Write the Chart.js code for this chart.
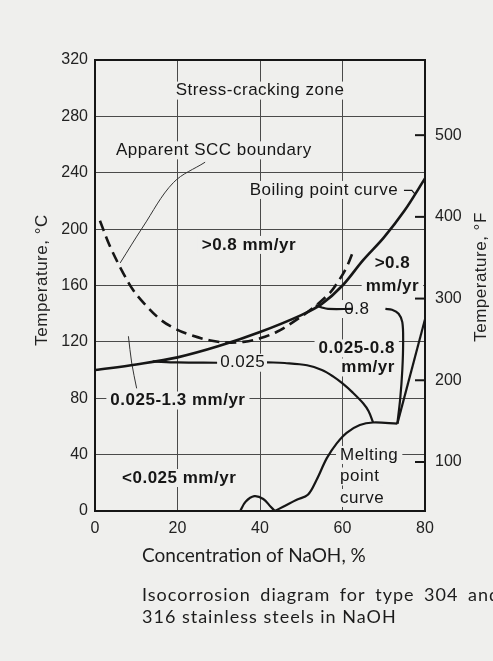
<!DOCTYPE html>
<html>
<head>
<meta charset="utf-8">
<title>Isocorrosion diagram NaOH</title>
<script src="https://cdn.jsdelivr.net/npm/chart.js@4.4.1/dist/chart.umd.min.js"></script>
<style>
  html, body { margin: 0; padding: 0; background: #efefed; }
  #wrap { position: relative; width: 493px; height: 661px; }
</style>
</head>
<body>
<div id="wrap"><canvas id="chart" width="493" height="661"></canvas></div>
<script>
// axis ticks
const concTicks = [0, 20, 40, 60, 80];
const tempTicksC = [0, 40, 80, 120, 160, 200, 240, 280, 320];
const tempTicksF = [100, 200, 300, 400, 500];

// curves: [NaOH %, temperature °C]
const boilingCurve = [[0,100],[10,104],[20,109],[30,117],[40,127],[50,139],[55,147],[60,160],[65,178],[70,194],[75,213],[80,236]];
const sccBoundary = [[1.2,206],[3.6,188],[6.8,169],[9.2,157],[12,147],[15.8,136],[19,130],[23,125],[28,121],[32,119.5],[36,120],[40,122.5],[44,127],[48,134],[52.8,144],[57,155],[59,163],[61,173],[62.8,186]];
const iso0025Left = [[14,106.1],[20,105.4],[29.6,105.2]];
const iso0025Right = [[41.7,105.5],[46,105],[51.4,103.4],[55,100],[57.7,95.5],[60,90.5],[62.5,84],[65,76.5],[66.3,71],[67.4,63]];
const iso08Left = [[53.5,146],[55,144.4],[56.5,143.4],[62.3,143.4]];
const iso08Right = [[70.4,143.4],[72,142.8],[73.6,140],[74.5,134],[74.7,120],[74.5,100],[74,80],[73.3,62]];
const meltingHump = [[35.2,0],[36.5,6.5],[38.6,10.5],[40.8,8.5],[42.6,3],[43.6,0]];
const meltingRise = [[43.6,0],[45.6,3],[48.9,8],[51.6,11.5],[53.7,22],[56.2,37.5],[58.6,48],[61,55.5],[64.2,61],[67.4,62.8],[73.3,62]];
const meltingUpper = [[73.3,62],[80,136]];

// thin leader lines from labels
const sccLeader = [[26.7,247.5],[19,233],[11.6,201.5],[6.1,176]];
const lowLeader = [[8.1,124],[8.9,105],[10.1,87]];
const boilingLeader = [[74.9,227.5],[76.8,227.5],[77.7,224.5]];

// labels inside the plot (anchored in data units)
const plotLabels = [
  {lines:['Stress-cracking zone'], x:40, t:298.3, align:'center'},
  {lines:['Apparent SCC boundary'], x:28.8, t:255.9, align:'center'},
  {lines:['Boiling point curve'], x:55.5, t:227.8, align:'center'},
  {lines:['>0.8 mm/yr'], x:37.3, t:188.8, align:'center', bold:true},
  {lines:['>0.8','mm/yr'], x:72.1, t:167.8, align:'center', bold:true, gap:23},
  {lines:['0.8'], x:63.5, t:143.3, align:'center'},
  {lines:['0.025-0.8','mm/yr'], x:72.7, t:108.6, align:'right', bold:true, gap:19},
  {lines:['0.025'], x:35.8, t:105.2, align:'center'},
  {lines:['0.025-1.3 mm/yr'], x:20.1, t:78.4, align:'center', bold:true},
  {lines:['<0.025 mm/yr'], x:20.4, t:23.4, align:'center', bold:true},
  {lines:['Melting','point','curve'], x:59.4, t:24.5, align:'left', gap:21.5}
];

const ink = '#161616';
const paper = '#efefed';

function pts(arr){ return arr.map(p => ({x:p[0], y:p[1]})); }
function curve(arr, width, extra){
  return Object.assign({data: pts(arr), borderColor: ink, borderWidth: width, pointRadius: 0, tension: 0.35, fill: false}, extra || {});
}

const overlay = {
  id: 'overlay',
  beforeDatasetsDraw(chart){
    const {ctx, scales:{x, y}} = chart;
    ctx.save();
    ctx.textBaseline = 'middle';
    plotLabels.forEach(l => {
      ctx.font = (l.bold ? 'bold ' : '') + '17px "Liberation Sans", Arial, sans-serif';
      ctx.letterSpacing = '0.5px';
      const gap = l.gap || 20;
      const px = x.getPixelForValue(l.x);
      const cy = y.getPixelForValue(l.t);
      const y0 = cy - (l.lines.length - 1) * gap / 2;
      l.lines.forEach((s, i) => {
        const w = ctx.measureText(s).width;
        const ly = y0 + i * gap;
        let left = px - w / 2;
        if (l.align === 'left') left = px;
        if (l.align === 'right') left = px - w;
        ctx.fillStyle = paper;
        ctx.fillRect(left - 4, ly - 9, w + 8, 18);
        ctx.fillStyle = ink;
        ctx.textAlign = 'left';
        ctx.fillText(s, left, ly);
      });
    });
    ctx.restore();
  },
  afterDraw(chart){
    const {ctx, chartArea:a, scales:{y2}} = chart;
    ctx.save();
    // frame
    ctx.strokeStyle = ink;
    ctx.lineWidth = 2;
    ctx.strokeRect(a.left, a.top, a.right - a.left, a.bottom - a.top);
    // inward ticks for the °F scale
    ctx.lineWidth = 2;
    tempTicksF.forEach(f => {
      const py = y2.getPixelForValue(f);
      ctx.beginPath(); ctx.moveTo(a.right - 10, py); ctx.lineTo(a.right, py); ctx.stroke();
    });
    // axis titles
    ctx.fillStyle = '#222';
    ctx.font = '17px "Liberation Sans", Arial, sans-serif';
    ctx.letterSpacing = '0.5px';
    ctx.textAlign = 'center';
    ctx.textBaseline = 'middle';
    ctx.save(); ctx.translate(42, 280); ctx.rotate(-Math.PI / 2); ctx.fillText('Temperature, °C', 0, 0); ctx.restore();
    ctx.save(); ctx.translate(481, 277); ctx.rotate(-Math.PI / 2); ctx.fillText('Temperature, °F', 0, 0); ctx.restore();
    // x title and caption
    ctx.textAlign = 'left';
    ctx.fillStyle = '#1c1c1c';
    ctx.letterSpacing = '0px';
    ctx.font = '19px Lato, "Noto Sans", sans-serif';
    ctx.fillText('Concentration of NaOH, %', 142, 556);
    ctx.font = '18px Lato, "Noto Sans", sans-serif';
    ctx.letterSpacing = '1px';
    ctx.wordSpacing = '4px';
    ctx.fillText('Isocorrosion diagram for type 304 and', 142, 595);
    ctx.wordSpacing = '0px';
    ctx.fillText('316 stainless steels in NaOH', 142, 617);
    ctx.restore();
  }
};

const tickFont = {family: '"Liberation Sans", Arial, sans-serif', size: 16};

new Chart(document.getElementById('chart'), {
  type: 'line',
  data: {
    datasets: [
      curve(boilingCurve, 2.6),
      curve(sccBoundary, 2.6, {borderDash: [11, 6]}),
      curve(iso0025Left, 2.2),
      curve(iso0025Right, 2.2),
      curve(iso08Left, 2.2),
      curve(iso08Right, 2.2),
      curve(meltingHump, 2.2),
      curve(meltingRise, 2.2),
      curve(meltingUpper, 2.2, {tension: 0}),
      curve(sccLeader, 1, {borderColor: '#333'}),
      curve(lowLeader, 1, {borderColor: '#333'}),
      curve(boilingLeader, 1.2, {tension: 0})
    ]
  },
  options: {
    responsive: false,
    devicePixelRatio: 1,
    animation: false,
    layout: {padding: {top: 60, left: 0, right: 0, bottom: 0}},
    plugins: {legend: {display: false}, tooltip: {enabled: false}},
    scales: {
      x: {
        type: 'linear', min: 0, max: 80,
        afterBuildTicks: s => { s.ticks = concTicks.map(v => ({value: v})); },
        afterFit: s => { s.height = 150; },
        grid: {color: '#4a4a4a', lineWidth: 1, drawTicks: false},
        border: {display: false},
        ticks: {color: '#222', font: tickFont, padding: 8, maxRotation: 0}
      },
      y: {
        type: 'linear', position: 'left', min: 0, max: 320,
        afterBuildTicks: s => { s.ticks = tempTicksC.map(v => ({value: v})); },
        afterFit: s => { s.width = 95; },
        grid: {color: '#4a4a4a', lineWidth: 1, drawTicks: false},
        border: {display: false},
        ticks: {color: '#222', font: tickFont, padding: 7}
      },
      y2: {
        type: 'linear', position: 'right', min: 40, max: 592,
        afterBuildTicks: s => { s.ticks = tempTicksF.map(v => ({value: v})); },
        afterFit: s => { s.width = 68; },
        grid: {display: false, drawTicks: false},
        border: {display: false},
        ticks: {color: '#222', font: tickFont, padding: 10}
      }
    }
  },
  plugins: [overlay]
});
</script>
</body>
</html>
